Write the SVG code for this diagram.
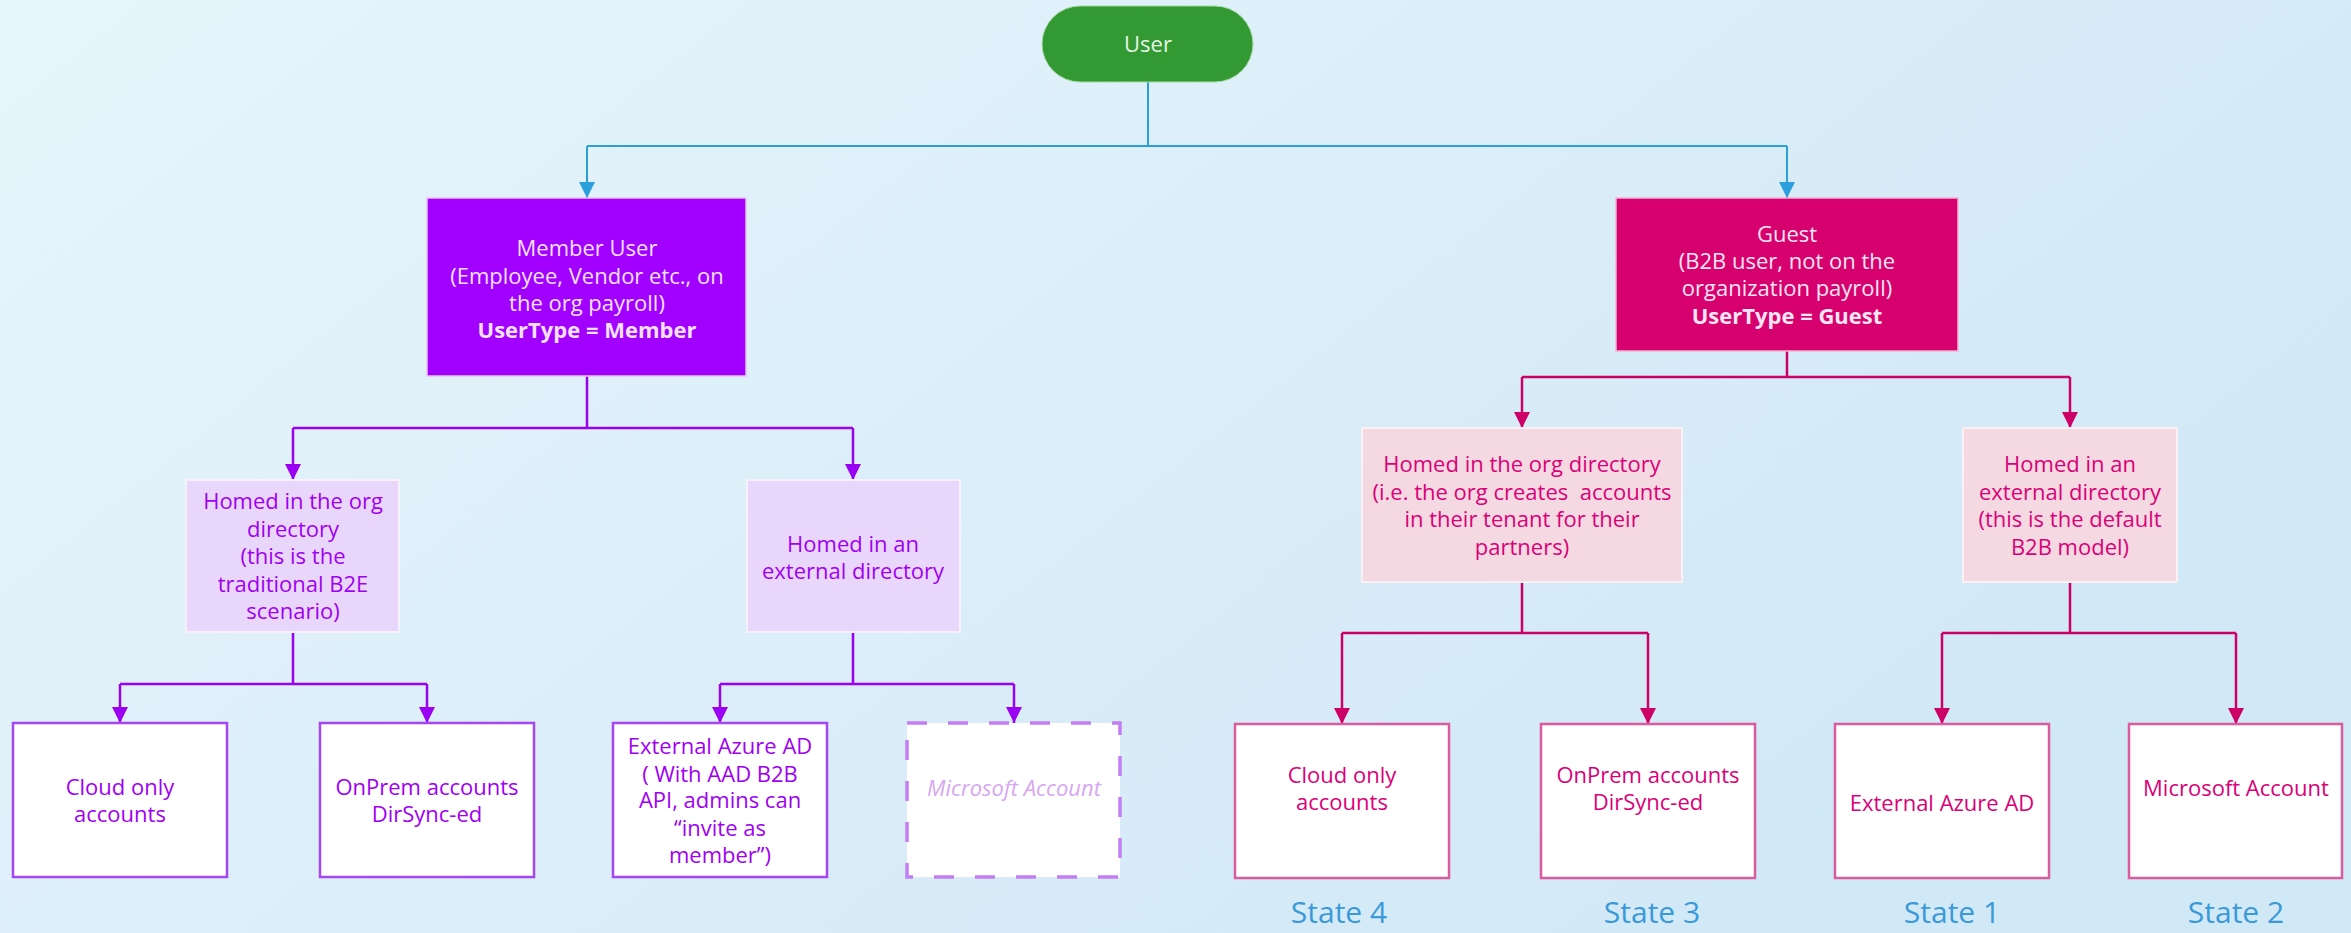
<svg xmlns="http://www.w3.org/2000/svg" width="2351" height="933" viewBox="0 0 2351 933">
<defs>
<linearGradient id="bg" x1="0" y1="0" x2="1" y2="0.5">
<stop offset="0" stop-color="#e7f5fc"/>
<stop offset="1" stop-color="#d1e8f6"/>
</linearGradient>
<marker id="aB" viewBox="0 0 16 16" refX="16" refY="8" markerWidth="16" markerHeight="17" orient="auto" markerUnits="userSpaceOnUse"><path d="M0,0 L16,8 L0,16 z" fill="#2a9fdc"/></marker>
<marker id="aP" viewBox="0 0 16 16" refX="16" refY="8" markerWidth="16" markerHeight="17" orient="auto" markerUnits="userSpaceOnUse"><path d="M0,0 L16,8 L0,16 z" fill="#9a00f2"/></marker>
<marker id="aK" viewBox="0 0 16 16" refX="16" refY="8" markerWidth="16" markerHeight="17" orient="auto" markerUnits="userSpaceOnUse"><path d="M0,0 L16,8 L0,16 z" fill="#cc0066"/></marker>
</defs>
<style>
text{font-family:"Open Sans","Noto Sans","Liberation Sans",sans-serif;font-size:22px;text-anchor:middle;dominant-baseline:central}
.b{font-weight:bold}
.cB{fill:none;stroke:#2a9fdc;stroke-width:2}
.cP{fill:none;stroke:#9a00f2;stroke-width:2.5}
.cK{fill:none;stroke:#cc0066;stroke-width:2.5}
.user{fill:#339933;stroke:#a8d8a8;stroke-width:1}
.member{fill:#a100ff;stroke:#e6c4ff;stroke-width:1.5}
.guest{fill:#d6006f;stroke:#f3b3d3;stroke-width:1.5}
.lp{fill:#e9d7fb;stroke:#f7f0fe;stroke-width:2}
.lk{fill:#f4d9e2;stroke:#fbf1f4;stroke-width:2}
.wp{fill:#ffffff;stroke:#a646f2;stroke-width:2.5}
.wk{fill:#ffffff;stroke:#dc5a9e;stroke-width:2.5}
.dash{fill:#ffffff;stroke:#c47ef5;stroke-width:3.5;stroke-dasharray:20 21}
.tw{fill:#e6f4e6}
.tm{fill:#f4e0ff}
.tg{fill:#ffe6f2}
.tp{fill:#a000f4}
.tk{fill:#dc0078}
.tl{fill:#d7a6f3;font-style:italic}
.st{fill:#3a9ad9;font-size:30px;dominant-baseline:auto}
</style>
<rect width="2351" height="933" fill="url(#bg)"/>
<g id="connectors">
<path class="cB" d="M1148,81 V146 M587,146 H1787"/>
<path class="cB" d="M587,146 V198" marker-end="url(#aB)"/>
<path class="cB" d="M1787,146 V198" marker-end="url(#aB)"/>
<path class="cP" d="M587,376 V428 M293,428 H853"/>
<path class="cP" d="M293,428 V480" marker-end="url(#aP)"/>
<path class="cP" d="M853,428 V480" marker-end="url(#aP)"/>
<path class="cP" d="M293,632 V684 M120,684 H427"/>
<path class="cP" d="M120,684 V723" marker-end="url(#aP)"/>
<path class="cP" d="M427,684 V723" marker-end="url(#aP)"/>
<path class="cP" d="M853,632 V684 M720,684 H1014"/>
<path class="cP" d="M720,684 V723" marker-end="url(#aP)"/>
<path class="cP" d="M1014,684 V723" marker-end="url(#aP)"/>
<path class="cK" d="M1787,351 V377 M1522,377 H2070"/>
<path class="cK" d="M1522,377 V428" marker-end="url(#aK)"/>
<path class="cK" d="M2070,377 V428" marker-end="url(#aK)"/>
<path class="cK" d="M1522,582 V633 M1342,633 H1648"/>
<path class="cK" d="M1342,633 V724" marker-end="url(#aK)"/>
<path class="cK" d="M1648,633 V724" marker-end="url(#aK)"/>
<path class="cK" d="M2070,582 V633 M1942,633 H2236"/>
<path class="cK" d="M1942,633 V724" marker-end="url(#aK)"/>
<path class="cK" d="M2236,633 V724" marker-end="url(#aK)"/>
</g>
<g id="user">
<rect class="user" x="1042" y="6" width="211" height="76" rx="38"/>
<text class="tw" x="1148" y="43">User</text>
</g>
<g id="member">
<rect class="member" x="427" y="198" width="319" height="178"/>
<text class="tm" x="587" y="247">Member User</text>
<text class="tm" x="587" y="275">(Employee, Vendor etc., on</text>
<text class="tm" x="587" y="302">the org payroll)</text>
<text class="tm b" x="587" y="329">UserType = Member</text>
</g>
<g id="guest">
<rect class="guest" x="1616" y="198" width="342" height="153"/>
<text class="tg" x="1787" y="233">Guest</text>
<text class="tg" x="1787" y="260">(B2B user, not on the</text>
<text class="tg" x="1787" y="287">organization payroll)</text>
<text class="tg b" x="1787" y="315">UserType = Guest</text>
</g>
<g id="member-org-dir">
<rect class="lp" x="186" y="480" width="213" height="152"/>
<text class="tp" x="293" y="500">Homed in the org</text>
<text class="tp" x="293" y="528">directory</text>
<text class="tp" x="293" y="555">(this is the</text>
<text class="tp" x="293" y="583">traditional B2E</text>
<text class="tp" x="293" y="610">scenario)</text>
</g>
<g id="member-ext-dir">
<rect class="lp" x="747" y="480" width="213" height="152"/>
<text class="tp" x="853" y="543">Homed in an</text>
<text class="tp" x="853" y="570">external directory</text>
</g>
<g id="guest-org-dir">
<rect class="lk" x="1362" y="428" width="320" height="154"/>
<text class="tk" x="1522" y="463">Homed in the org directory</text>
<text class="tk" x="1522" y="491" xml:space="preserve">(i.e. the org creates  accounts</text>
<text class="tk" x="1522" y="518">in their tenant for their</text>
<text class="tk" x="1522" y="546">partners)</text>
</g>
<g id="guest-ext-dir">
<rect class="lk" x="1963" y="428" width="214" height="154"/>
<text class="tk" x="2070" y="463">Homed in an</text>
<text class="tk" x="2070" y="491">external directory</text>
<text class="tk" x="2070" y="518">(this is the default</text>
<text class="tk" x="2070" y="546">B2B model)</text>
</g>
<g id="member-cloud">
<rect class="wp" x="13" y="723" width="214" height="154"/>
<text class="tp" x="120" y="786">Cloud only</text>
<text class="tp" x="120" y="813">accounts</text>
</g>
<g id="member-onprem">
<rect class="wp" x="320" y="723" width="214" height="154"/>
<text class="tp" x="427" y="786">OnPrem accounts</text>
<text class="tp" x="427" y="813">DirSync-ed</text>
</g>
<g id="member-ext-aad">
<rect class="wp" x="613" y="723" width="214" height="154"/>
<text class="tp" x="720" y="745">External Azure AD</text>
<text class="tp" x="720" y="773">( With AAD B2B</text>
<text class="tp" x="720" y="799">API, admins can</text>
<text class="tp" x="720" y="827">“invite as</text>
<text class="tp" x="720" y="854">member”)</text>
</g>
<g id="member-msa">
<rect class="dash" x="907" y="723" width="213" height="154"/>
<text class="tl" x="1014" y="787">Microsoft Account</text>
</g>
<g id="guest-cloud">
<rect class="wk" x="1235" y="724" width="214" height="154"/>
<text class="tk" x="1342" y="774">Cloud only</text>
<text class="tk" x="1342" y="801">accounts</text>
</g>
<g id="guest-onprem">
<rect class="wk" x="1541" y="724" width="214" height="154"/>
<text class="tk" x="1648" y="774">OnPrem accounts</text>
<text class="tk" x="1648" y="801">DirSync-ed</text>
</g>
<g id="guest-ext-aad">
<rect class="wk" x="1835" y="724" width="214" height="154"/>
<text class="tk" x="1942" y="802">External Azure AD</text>
</g>
<g id="guest-msa">
<rect class="wk" x="2129" y="724" width="213" height="154"/>
<text class="tk" x="2236" y="787">Microsoft Account</text>
</g>
<g id="states">
<text class="st" x="1339" y="923">State 4</text>
<text class="st" x="1652" y="923">State 3</text>
<text class="st" x="1952" y="923">State 1</text>
<text class="st" x="2236" y="923">State 2</text>
</g>
</svg>
